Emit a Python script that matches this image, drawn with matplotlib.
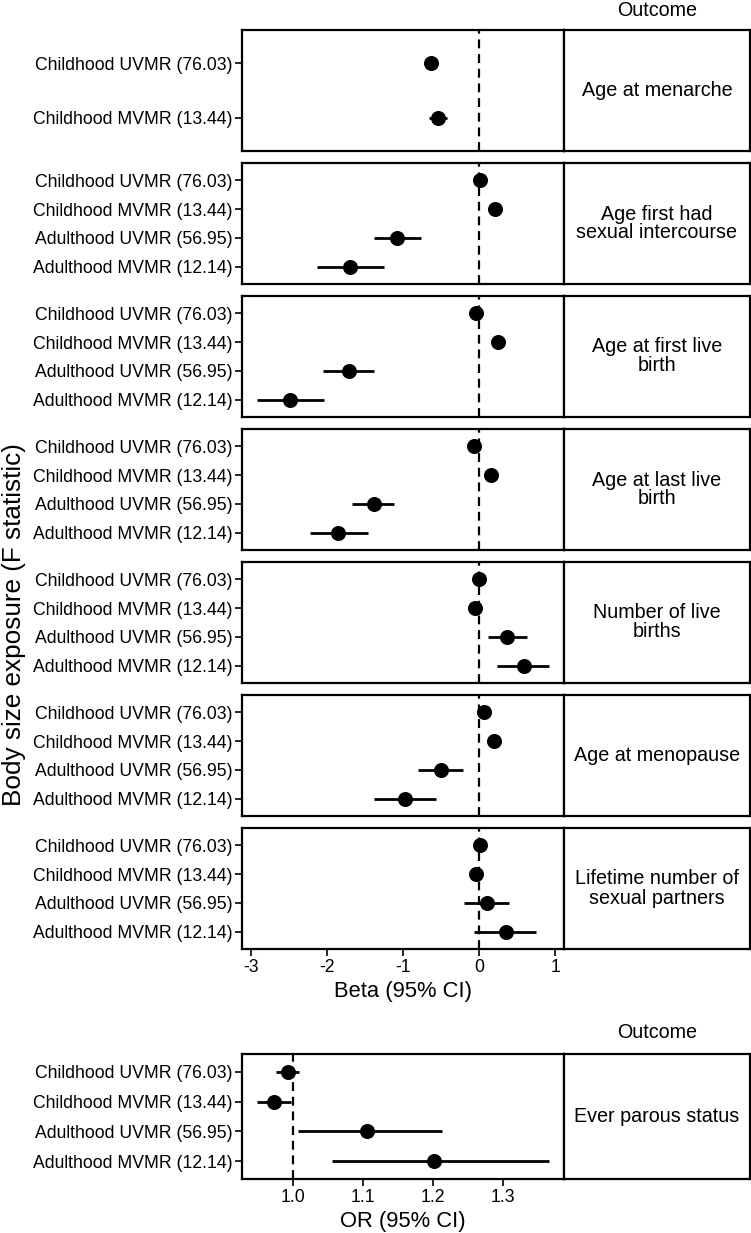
import numpy as np
import matplotlib
matplotlib.use("Agg")
import matplotlib.pyplot as plt

plt.rcParams['font.family'] = ['Liberation Sans', 'DejaVu Sans']

# ---------------- data ----------------
exposures = ["Childhood UVMR (76.03)", "Childhood MVMR (13.44)",
             "Adulthood UVMR (56.95)", "Adulthood MVMR (12.14)"]

outcomes = ["Age at menarche", "Age first had\nsexual intercourse",
            "Age at first live\nbirth", "Age at last live\nbirth",
            "Number of live\nbirths", "Age at menopause",
            "Lifetime number of\nsexual partners"]

menarche_beta = [-0.64, -0.55]
menarche_lo = [-0.69, -0.66]
menarche_hi = [-0.59, -0.43]

firstsex_beta = [0.01, 0.21, -1.08, -1.70]
firstsex_lo = [-0.03, 0.15, -1.39, -2.13]
firstsex_hi = [0.05, 0.27, -0.77, -1.26]

firstbirth_beta = [-0.05, 0.24, -1.72, -2.49]
firstbirth_lo = [-0.10, 0.18, -2.06, -2.93]
firstbirth_hi = [0.00, 0.30, -1.38, -2.05]

lastbirth_beta = [-0.07, 0.15, -1.39, -1.86]
lastbirth_lo = [-0.12, 0.09, -1.67, -2.23]
lastbirth_hi = [-0.02, 0.21, -1.12, -1.47]

nbirths_beta = [0.00, -0.06, 0.36, 0.58]
nbirths_lo = [-0.04, -0.10, 0.11, 0.23]
nbirths_hi = [0.04, -0.02, 0.62, 0.92]

menopause_beta = [0.06, 0.19, -0.51, -0.98]
menopause_lo = [0.00, 0.13, -0.81, -1.39]
menopause_hi = [0.12, 0.25, -0.21, -0.57]

partners_beta = [0.01, -0.04, 0.10, 0.35]
partners_lo = [-0.02, -0.07, -0.20, -0.07]
partners_hi = [0.04, -0.01, 0.39, 0.75]

parous_outcome = "Ever parous status"
parous_or = [0.993, 0.9725, 1.106, 1.2015]
parous_lo = [0.975, 0.948, 1.007, 1.055]
parous_hi = [1.009, 0.997, 1.213, 1.366]

beta_ticks = [-3, -2, -1, 0, 1]
beta_ticklabels = ["-3", "-2", "-1", "0", "1"]
or_ticks = [1.0, 1.1, 1.2, 1.3]
or_ticklabels = ["1.0", "1.1", "1.2", "1.3"]

panels = [
    (menarche_beta, menarche_lo, menarche_hi),
    (firstsex_beta, firstsex_lo, firstsex_hi),
    (firstbirth_beta, firstbirth_lo, firstbirth_hi),
    (lastbirth_beta, lastbirth_lo, lastbirth_hi),
    (nbirths_beta, nbirths_lo, nbirths_hi),
    (menopause_beta, menopause_lo, menopause_hi),
    (partners_beta, partners_lo, partners_hi),
]

# ---------------- layout ----------------
W, H = 751, 1233
fig = plt.figure(figsize=(W / 100, H / 100), dpi=100)


def rect(left, top, right, bottom):
    return [left / W, 1 - bottom / H, (right - left) / W, (bottom - top) / H]


TICK_FS = 12.7
STRIP_FS = 14.2
TITLE_FS = 15.8
LW_BOX = 1.6


def style_axes(ax):
    for s in ax.spines.values():
        s.set_linewidth(LW_BOX)
        s.set_color("black")
    ax.tick_params(axis="both", direction="out", length=5, width=1.2,
                   colors="black", labelsize=TICK_FS, pad=2)


def strip(top, bottom, text):
    sax = fig.add_axes(rect(564, top, 750, bottom))
    sax.set_xticks([])
    sax.set_yticks([])
    for s in sax.spines.values():
        s.set_linewidth(LW_BOX)
        s.set_color("black")
    sax.text(0.5, 0.5, text, ha="center", va="center", fontsize=STRIP_FS,
             transform=sax.transAxes, linespacing=1.0)


def forest(ax, est, lo, hi, labels, ref):
    n = len(est)
    y = np.arange(n)
    est = np.asarray(est)
    xerr = np.vstack([est - np.asarray(lo), np.asarray(hi) - est])
    ax.axvline(ref, color="black", linestyle=(0, (4.0, 2.6)), linewidth=1.6,
               zorder=1)
    ax.errorbar(est, y, xerr=xerr, fmt="o", color="black", ecolor="black",
                elinewidth=2.0, capsize=0, markersize=9.8, zorder=3)
    ax.set_yticks(y)
    ax.set_yticklabels(labels[:n])
    ax.set_ylim(n - 0.4, -0.6)


all_lo = min(min(p[1]) for p in panels)
all_hi = max(max(p[2]) for p in panels)
rng = all_hi - all_lo
xlim_beta = (all_lo - 0.05 * rng, all_hi + 0.05 * rng)

top0 = 30
step = 133
ph = 121
for i, (est, lo, hi) in enumerate(panels):
    t = top0 + i * step
    b = t + ph
    ax = fig.add_axes(rect(242, t, 564, b))
    forest(ax, est, lo, hi, exposures, 0.0)
    ax.set_xlim(*xlim_beta)
    style_axes(ax)
    ax.set_xticks(beta_ticks)
    if i < len(panels) - 1:
        ax.tick_params(axis="x", bottom=False, labelbottom=False)
    else:
        ax.set_xticklabels(beta_ticklabels)
        ax.set_xlabel("Beta (95% CI)", fontsize=TITLE_FS, labelpad=4)
    strip(t, b, outcomes[i])

fig.text(657 / W, 1 - 10 / H, "Outcome", ha="center", va="center",
         fontsize=STRIP_FS)

# bottom panel
bt, bb = 1054, 1179
bax = fig.add_axes(rect(242, bt, 564, bb))
forest(bax, parous_or, parous_lo, parous_hi, exposures, 1.0)
rng2 = max(parous_hi) - min(parous_lo)
bax.set_xlim(min(parous_lo) - 0.05 * rng2, max(parous_hi) + 0.05 * rng2)
style_axes(bax)
bax.set_xticks(or_ticks)
bax.set_xticklabels(or_ticklabels)
bax.set_xlabel("OR (95% CI)", fontsize=TITLE_FS, labelpad=4)
strip(bt, bb, parous_outcome)
fig.text(657 / W, 1 - 1032 / H, "Outcome", ha="center", va="center",
         fontsize=STRIP_FS)

fig.text(14 / W, 1 - 625 / H, "Body size exposure (F statistic)",
         rotation=90, ha="center", va="center", fontsize=18.8)

fig.savefig("out.png", dpi=100, facecolor="white")
